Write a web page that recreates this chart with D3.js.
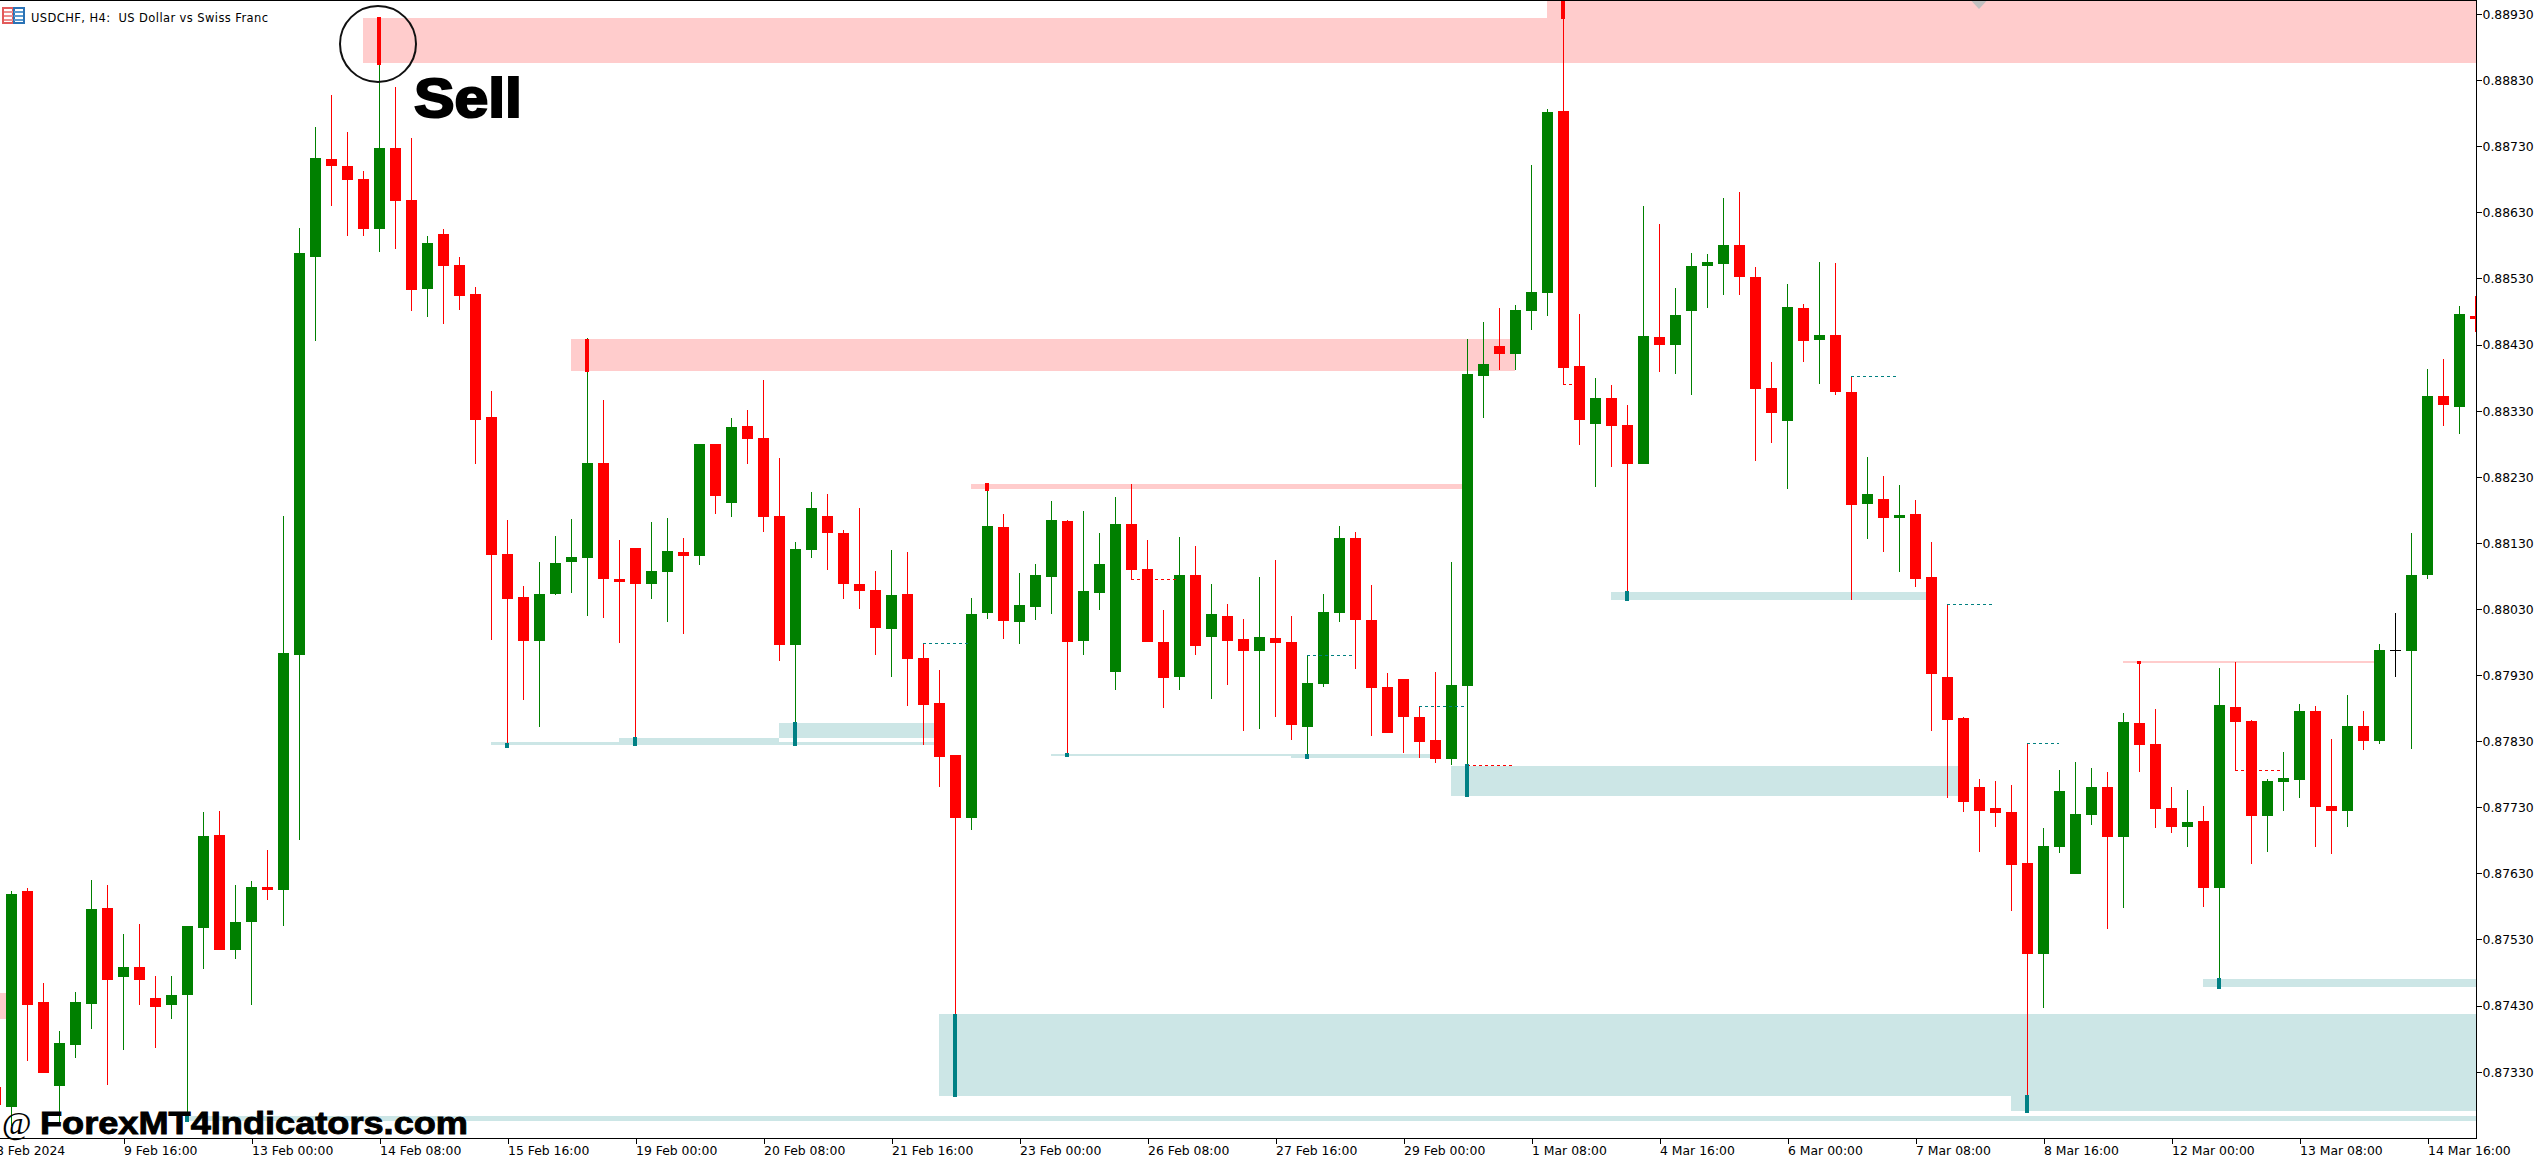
<!DOCTYPE html>
<html>
<head>
<meta charset="utf-8">
<script src="https://cdn.jsdelivr.net/npm/d3@7"></script>
<style>
html,body{margin:0;padding:0;background:#fff;overflow:hidden}
svg{display:block}
</style>
</head>
<body>
<div id="chart"></div>
<script>
const barIndex = d3.range(-1,155);
const open = [0.87306,
0.87276,0.87603,0.87435,0.87308,0.87370,0.87433,0.87577,0.87473,0.87489,0.87441,
0.87430,0.87446,0.87547,0.87688,0.87514,0.87556,0.87609,0.87604,0.87960,0.88562,
0.88710,0.88700,0.88680,0.88604,0.88727,0.88648,0.88514,0.88597,0.88550,0.88506,
0.88320,0.88113,0.88048,0.87981,0.88052,0.88101,0.88107,0.88250,0.88075,0.88122,
0.88067,0.88086,0.88116,0.88110,0.88279,0.88190,0.88306,0.88288,0.88170,0.87975,
0.88119,0.88170,0.88145,0.88067,0.88058,0.87999,0.88052,0.87955,0.87887,0.87809,
0.87713,0.88024,0.88154,0.88010,0.88033,0.88079,0.88163,0.87981,0.88054,0.87934,
0.88158,0.88090,0.87980,0.87927,0.88081,0.87987,0.88020,0.87984,0.87966,0.87986,
0.87980,0.87851,0.87916,0.88024,0.88137,0.88013,0.87912,0.87924,0.87866,0.87831,
0.87803,0.87913,0.88382,0.88427,0.88415,0.88480,0.88508,0.88783,0.88397,0.88310,
0.88349,0.88308,0.88249,0.88441,0.88430,0.88480,0.88549,0.88552,0.88580,0.88532,
0.88364,0.88314,0.88485,0.88437,0.88444,0.88358,0.88188,0.88196,0.88167,0.88173,
0.88079,0.87927,0.87865,0.87760,0.87729,0.87722,0.87645,0.87508,0.87670,0.87629,
0.87718,0.87760,0.87685,0.87857,0.87825,0.87729,0.87700,0.87709,0.87608,0.87881,
0.87860,0.87716,0.87768,0.87771,0.87875,0.87732,0.87724,0.87853,0.87830,0.87968,
0.87966,0.88081,0.88352,0.88335,0.88473];
const high = [0.87306,
0.87603,0.87608,0.87464,0.87391,0.87450,0.87620,0.87613,0.87538,0.87553,0.87474,
0.87474,0.87551,0.87722,0.87725,0.87613,0.87618,0.87666,0.88170,0.88606,0.88759,
0.88807,0.88751,0.88692,0.88925,0.88819,0.88742,0.88594,0.88604,0.88562,0.88517,
0.88359,0.88164,0.88064,0.88101,0.88141,0.88166,0.88440,0.88346,0.88134,0.88122,
0.88161,0.88167,0.88137,0.88279,0.88279,0.88319,0.88331,0.88376,0.88258,0.88131,
0.88207,0.88204,0.88149,0.88182,0.88087,0.88119,0.88116,0.87978,0.87937,0.87809,
0.88046,0.88220,0.88173,0.88084,0.88098,0.88193,0.88164,0.88178,0.88145,0.88199,
0.88219,0.88134,0.88028,0.88139,0.88125,0.88067,0.88037,0.88014,0.88078,0.88104,
0.88019,0.87961,0.88052,0.88155,0.88146,0.88066,0.87933,0.87924,0.87883,0.87934,
0.88101,0.88438,0.88464,0.88485,0.88490,0.88701,0.88786,0.88965,0.88476,0.88379,
0.88368,0.88338,0.88639,0.88612,0.88515,0.88568,0.88567,0.88651,0.88660,0.88547,
0.88403,0.88521,0.88491,0.88555,0.88553,0.88382,0.88260,0.88231,0.88217,0.88195,
0.88131,0.88037,0.87866,0.87772,0.87769,0.87763,0.87827,0.87698,0.87786,0.87798,
0.87790,0.87784,0.87872,0.87951,0.87878,0.87760,0.87756,0.87732,0.87940,0.87949,
0.87862,0.87772,0.87813,0.87886,0.87883,0.87833,0.87900,0.87875,0.87977,0.88024,
0.88145,0.88393,0.88408,0.88488,0.88503];
const low = [0.87279,
0.87247,0.87346,0.87328,0.87253,0.87350,0.87394,0.87309,0.87362,0.87430,0.87365,
0.87409,0.87253,0.87485,0.87514,0.87500,0.87430,0.87589,0.87551,0.87680,0.88435,
0.88639,0.88594,0.88594,0.88570,0.88574,0.88480,0.88471,0.88461,0.88482,0.88249,
0.87983,0.87824,0.87892,0.87851,0.88051,0.88054,0.88020,0.88016,0.87978,0.87822,
0.88045,0.88010,0.87992,0.88096,0.88173,0.88169,0.88249,0.88146,0.87951,0.87822,
0.88107,0.88089,0.88045,0.88030,0.87960,0.87927,0.87883,0.87824,0.87760,0.87291,
0.87695,0.88014,0.87984,0.87977,0.88013,0.88022,0.87810,0.87960,0.88028,0.87907,
0.88075,0.87980,0.87880,0.87907,0.87961,0.87893,0.87915,0.87845,0.87848,0.87866,
0.87831,0.87803,0.87912,0.88010,0.87939,0.87837,0.87842,0.87812,0.87804,0.87797,
0.87794,0.87745,0.88319,0.88391,0.88391,0.88452,0.88473,0.88370,0.88278,0.88214,
0.88244,0.88042,0.88249,0.88388,0.88385,0.88353,0.88485,0.88505,0.88505,0.88253,
0.88281,0.88211,0.88403,0.88370,0.88353,0.88043,0.88135,0.88116,0.88086,0.88063,
0.87845,0.87744,0.87722,0.87662,0.87700,0.87573,0.87269,0.87426,0.87660,0.87629,
0.87703,0.87545,0.87577,0.87783,0.87698,0.87691,0.87670,0.87579,0.87455,0.87786,
0.87644,0.87662,0.87725,0.87744,0.87670,0.87659,0.87700,0.87816,0.87825,0.87927,
0.87818,0.88075,0.88306,0.88294,0.88449];
const close = [0.87279,
0.87598,0.87430,0.87328,0.87373,0.87435,0.87576,0.87468,0.87489,0.87468,0.87427,
0.87446,0.87550,0.87686,0.87514,0.87556,0.87609,0.87604,0.87963,0.88568,0.88712,
0.88700,0.88679,0.88604,0.88727,0.88647,0.88512,0.88583,0.88549,0.88503,0.88316,
0.88111,0.88045,0.87981,0.88052,0.88099,0.88108,0.88250,0.88075,0.88070,0.88067,
0.88087,0.88117,0.88110,0.88279,0.88201,0.88305,0.88287,0.88169,0.87975,0.88120,
0.88182,0.88145,0.88067,0.88057,0.88001,0.88051,0.87954,0.87884,0.87806,0.87713,
0.88022,0.88155,0.88011,0.88036,0.88081,0.88164,0.87980,0.88057,0.88098,0.88158,
0.88089,0.87980,0.87925,0.88081,0.87974,0.88022,0.87981,0.87966,0.87987,0.87978,
0.87854,0.87918,0.88025,0.88137,0.88013,0.87910,0.87842,0.87866,0.87828,0.87803,
0.87915,0.88385,0.88400,0.88415,0.88482,0.88509,0.88781,0.88394,0.88316,0.88349,
0.88306,0.88249,0.88443,0.88429,0.88474,0.88549,0.88555,0.88580,0.88532,0.88362,
0.88326,0.88486,0.88435,0.88444,0.88358,0.88187,0.88204,0.88167,0.88172,0.88075,
0.87931,0.87862,0.87738,0.87725,0.87721,0.87642,0.87508,0.87671,0.87754,0.87719,
0.87760,0.87685,0.87859,0.87824,0.87727,0.87700,0.87707,0.87608,0.87884,0.87859,
0.87716,0.87769,0.87774,0.87875,0.87730,0.87724,0.87853,0.87830,0.87968,0.87968,
0.88082,0.88352,0.88338,0.88476,0.88468];

const priceTicks = [0.88930,0.88830,0.88730,0.88630,0.88530,0.88430,0.88330,0.88230,0.88130,0.88030,0.87930,0.87830,0.87730,0.87630,0.87530,0.87430,0.87330];
const timeBars = [-1,7,15,23,31,39,47,55,63,71,79,87,95,103,111,119,127,135,143,151];
const timeLabels = ["8 Feb 2024","9 Feb 16:00","13 Feb 00:00","14 Feb 08:00","15 Feb 16:00","19 Feb 00:00","20 Feb 08:00","21 Feb 16:00","23 Feb 00:00","26 Feb 08:00","27 Feb 16:00","29 Feb 00:00","1 Mar 08:00","4 Mar 16:00","6 Mar 00:00","7 Mar 08:00","8 Mar 16:00","12 Mar 00:00","13 Mar 08:00","14 Mar 16:00"];

const supplyFrom   = [-2,22,96,35,60,132];
const supplyTo     = [0,155,155,94,91,148];
const supplyTop    = [0.87449,0.88924,0.88965,0.88438,0.88219,0.87951];
const supplyBottom = [0.87409,0.88856,0.88856,0.88390,0.88211,0.87948];

const demandFrom   = [11,30,38,48,65,80,90,100,58,125,137];
const demandTo     = [155,58,48,58,80,89,122,120,155,155,155];
const demandTop    = [0.87263,0.87828,0.87834,0.87857,0.87810,0.87810,0.87792,0.88055,0.87417,0.87417,0.87470];
const demandBottom = [0.87255,0.87824,0.87828,0.87834,0.87808,0.87805,0.87747,0.88043,0.87293,0.87270,0.87458];

const sellMarkBar    = [23,36,61,97,133];
const sellMarkTop    = [0.88925,0.88438,0.88220,0.88965,0.87951];
const sellMarkBottom = [0.88853,0.88388,0.88208,0.88922,0.87946];

const buyMarkBar    = [11,31,39,49,59,66,81,91,101,126,138];
const buyMarkTop    = [0.87266,0.87827,0.87836,0.87859,0.87417,0.87812,0.87810,0.87795,0.88057,0.87294,0.87471];
const buyMarkBottom = [0.87253,0.87819,0.87822,0.87822,0.87291,0.87806,0.87803,0.87745,0.88042,0.87267,0.87455];

const tealDashFrom  = [57,81,88,115,121,126];
const tealDashTo    = [59.8,83.8,90.8,117.8,123.8,128];
const tealDashPrice = [0.87978,0.87961,0.87883,0.88382,0.88037,0.87827];

const redDashFrom  = [70,91,97,139];
const redDashTo    = [72.8,93.8,98,141.8];
const redDashPrice = [0.88075,0.87794,0.88370,0.87786];

const width = 2537, height = 1162, axisX = 2476, axisY = 1138;
const GREEN = "#008000", RED = "#ff0000", PINK = "#ffcccc", TEAL_FILL = "#cce6e6", TEAL = "#008080";

const x = d3.scaleLinear().domain([0,154]).range([11,2475]);
const y = d3.scaleLinear().domain([0.88930,0.87330]).range([14,1071.6]);
const py = p => Math.round(y(p));

const svg = d3.select("#chart").append("svg").attr("width",width).attr("height",height)
  .style("font-family","'DejaVu Sans'");
svg.append("rect").attr("width",width).attr("height",height).attr("fill","#fff");
svg.append("defs").append("clipPath").attr("id","plot").append("rect")
  .attr("x",0).attr("y",1).attr("width",axisX).attr("height",axisY-1);

const plot = svg.append("g").attr("clip-path","url(#plot)").attr("shape-rendering","crispEdges");

function zones(from,to,top,bottom,fill){
  plot.append("g").selectAll("rect").data(from).join("rect")
    .attr("x",(d)=>x(d))
    .attr("width",(d,i)=>x(to[i])-x(d))
    .attr("y",(d,i)=>py(top[i]))
    .attr("height",(d,i)=>Math.max(1,py(bottom[i])-py(top[i])))
    .attr("fill",fill);
}
zones(supplyFrom,supplyTo,supplyTop,supplyBottom,PINK);
zones(demandFrom,demandTo,demandTop,demandBottom,TEAL_FILL);

const bars = d3.range(open.length);
const barColor = i => close[i]>open[i] ? GREEN : close[i]<open[i] ? RED : "#000";
plot.append("g").selectAll("rect").data(bars).join("rect")
  .attr("x",i=>x(barIndex[i])).attr("width",1)
  .attr("y",i=>py(high[i])).attr("height",i=>Math.max(1,py(low[i])-py(high[i])))
  .attr("fill",barColor);
plot.append("g").selectAll("rect").data(bars).join("rect")
  .attr("x",i=>x(barIndex[i])-5).attr("width",11)
  .attr("y",i=>py(Math.max(open[i],close[i])))
  .attr("height",i=>Math.max(1,py(Math.min(open[i],close[i]))-py(Math.max(open[i],close[i]))))
  .attr("fill",barColor);

function dashes(from,to,price,color){
  plot.append("g").selectAll("line").data(from).join("line")
    .attr("x1",d=>x(d)).attr("x2",(d,i)=>x(to[i]))
    .attr("y1",(d,i)=>py(price[i])+0.5).attr("y2",(d,i)=>py(price[i])+0.5)
    .attr("stroke",color).attr("stroke-width",1).attr("stroke-dasharray","3 3");
}
dashes(tealDashFrom,tealDashTo,tealDashPrice,TEAL);
dashes(redDashFrom,redDashTo,redDashPrice,RED);

function marks(bar,top,bottom,color){
  plot.append("g").selectAll("rect").data(bar).join("rect")
    .attr("x",d=>x(d)-2).attr("width",4)
    .attr("y",(d,i)=>py(top[i])).attr("height",(d,i)=>Math.max(2,py(bottom[i])-py(top[i])))
    .attr("fill",color);
}
marks(sellMarkBar,sellMarkTop,sellMarkBottom,RED);
marks(buyMarkBar,buyMarkTop,buyMarkBottom,"#008084");

// grey level triangle at the top of the plot
plot.append("path")
  .attr("d",`M${x(123)-7.5},1L${x(123)+7.5},1L${x(123)},9Z`)
  .attr("fill","#c0c0c0").attr("shape-rendering","auto");

// axes
const yAxis = d3.axisRight(y).tickValues(priceTicks).tickSize(5).tickSizeOuter(0).tickFormat(d3.format(".5f"));
const yG = svg.append("g").attr("transform",`translate(${axisX+0.5},0)`).call(yAxis);
yG.select(".domain").remove();
yG.selectAll("line").attr("stroke","#000").attr("shape-rendering","crispEdges");
yG.selectAll("text").attr("x",6).attr("dy","0.36em").attr("fill","#000")
  .style("font-family","'DejaVu Sans'").style("font-size","12.4px");

const xAxis = d3.axisBottom(x).tickValues(timeBars).tickSize(5).tickSizeOuter(0)
  .tickFormat((d,i)=>timeLabels[i]);
const xG = svg.append("g").attr("transform",`translate(0.5,${axisY+0.5})`).call(xAxis);
xG.select(".domain").remove();
xG.selectAll("line").attr("stroke","#000").attr("shape-rendering","crispEdges");
xG.selectAll("text").attr("y",8).attr("dy","0.71em").attr("text-anchor","start").attr("x",0).attr("fill","#000")
  .style("font-family","'DejaVu Sans'").style("font-size","12.4px");

// frame
const frame = svg.append("g").attr("stroke","#000").attr("shape-rendering","crispEdges");
frame.append("line").attr("x1",0).attr("x2",axisX+1).attr("y1",0.5).attr("y2",0.5);
frame.append("line").attr("x1",axisX+0.5).attr("x2",axisX+0.5).attr("y1",0).attr("y2",axisY+1);
frame.append("line").attr("x1",0).attr("x2",axisX+1).attr("y1",axisY+0.5).attr("y2",axisY+0.5);

// header icon and title
const icon = svg.append("g").attr("shape-rendering","crispEdges");
icon.append("rect").attr("x",3).attr("y",8).attr("width",10).attr("height",15).attr("fill","#fff").attr("stroke","#e25a5a").attr("stroke-width",2);
icon.append("rect").attr("x",14).attr("y",8).attr("width",10).attr("height",15).attr("fill","#fff").attr("stroke","#2a72b5").attr("stroke-width",2);
[11,15,19].forEach(v=>{
  icon.append("rect").attr("x",4).attr("y",v).attr("width",9).attr("height",2).attr("fill","#ee8f8f");
  icon.append("rect").attr("x",14).attr("y",v).attr("width",9).attr("height",2).attr("fill","#5a9bd0");
});
svg.append("text").attr("x",31).attr("y",22).style("white-space","pre")
  .style("font-family","'DejaVu Sans'").style("font-size","11.5px").attr("fill","#000")
  .attr("textLength",237).attr("lengthAdjust","spacing")
  .text("USDCHF, H4:  US Dollar vs Swiss Franc");

// annotation
svg.append("circle").attr("cx",x(23)-1).attr("cy",44).attr("r",38)
  .attr("fill","none").attr("stroke","#111").attr("stroke-width",2);
svg.append("text").attr("x",414).attr("y",117).attr("textLength",108).attr("lengthAdjust","spacingAndGlyphs")
  .style("font-family","'Liberation Sans'").style("font-weight","700").style("font-size","56px")
  .attr("fill","#000").attr("stroke","#000").attr("stroke-width",2.2).text("Sell");

// watermark
svg.append("text").attr("x",2).attr("y",1134)
  .style("font-family","'Liberation Serif'").style("font-size","32px").attr("fill","#000").text("@");
svg.append("text").attr("x",40).attr("y",1134).attr("textLength",428).attr("lengthAdjust","spacingAndGlyphs")
  .style("font-family","'Liberation Sans'").style("font-weight","700").style("font-size","31.5px")
  .attr("fill","#000").attr("stroke","#000").attr("stroke-width",0.9).text("ForexMT4Indicators.com");
</script>
</body>
</html>
